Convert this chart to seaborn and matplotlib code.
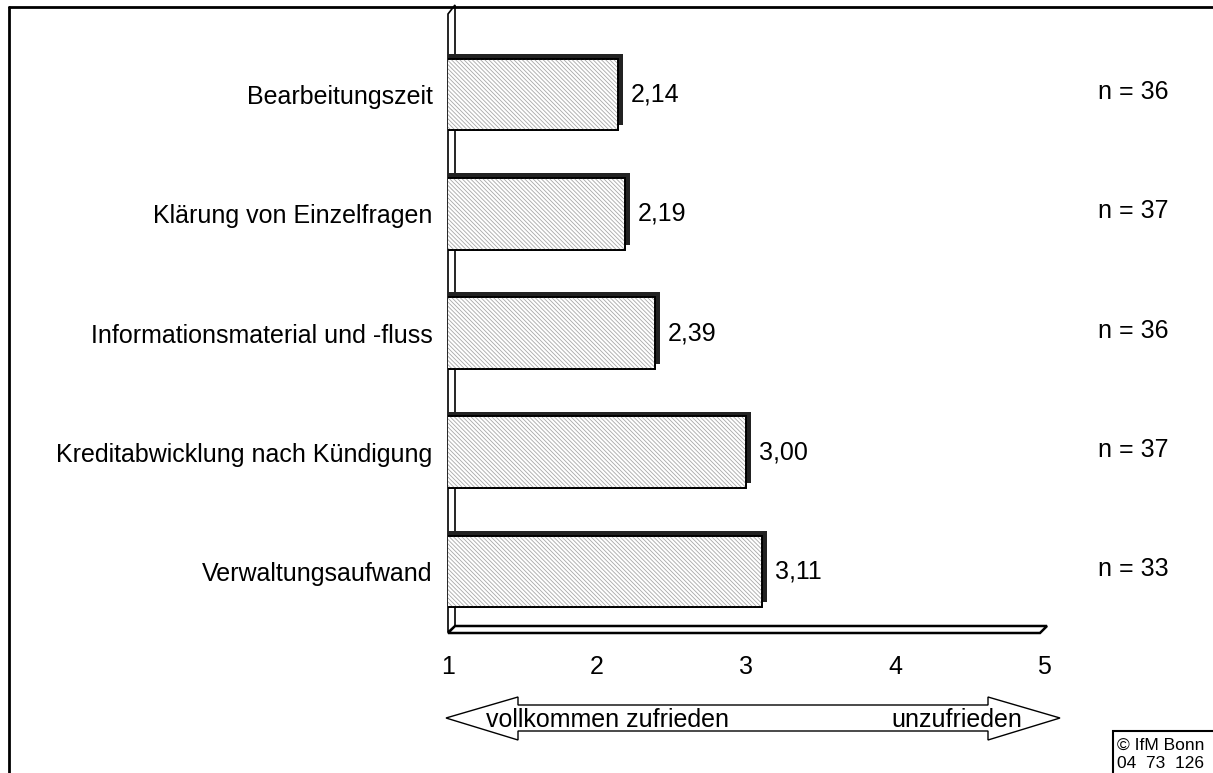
import numpy as np
import pandas as pd
import matplotlib
matplotlib.use('Agg')
import matplotlib.pyplot as plt
import matplotlib.patheffects as pe
from matplotlib.patches import Polygon, Rectangle
import matplotlib.transforms as mtransforms
import seaborn as sns

# data
categories = ['Bearbeitungszeit', 'Klärung von Einzelfragen',
              'Informationsmaterial und -fluss',
              'Kreditabwicklung nach Kündigung', 'Verwaltungsaufwand']
means = [2.14, 2.19, 2.39, 3.00, 3.11]
n_values = [36, 37, 36, 37, 33]
x_ticks = [1, 2, 3, 4, 5]
scale_left = 'vollkommen zufrieden'
scale_right = 'unzufrieden'

df = pd.DataFrame({'Kategorie': categories, 'Mittelwert': means})

sns.set_style('white')
plt.rcParams['font.family'] = ['Liberation Sans', 'DejaVu Sans']
plt.rcParams['hatch.linewidth'] = 0.6
plt.rcParams['text.color'] = 'black'
plt.rcParams['xtick.color'] = 'black'
plt.rcParams['ytick.color'] = 'black'

W, H = 1213, 773
FS = 18


def px(x, y):
    # image pixel (top-left origin) -> figure fraction
    return (x / W, 1 - y / H)


fig = plt.figure(figsize=(W / 100, H / 100), dpi=100)
ax = fig.add_axes([448 / W, 1 - 630 / H, 596 / W, 625 / H])

# white bars with dark top/right side (3d look)
sns.barplot(data=df, x='Mittelwert', y='Kategorie', orient='h', width=0.6,
            color='white', saturation=1, edgecolor='black', linewidth=1.3,
            ax=ax, zorder=2)
for p in ax.patches:
    p.set_path_effects([pe.SimplePatchShadow(offset=(3.5, 3.5), shadow_rgbFace='#222222', alpha=1),
                        pe.Normal()])

ypos = np.arange(len(means))
ax.barh(ypos, means, height=0.6, fill=False, hatch='\\\\\\\\\\\\\\\\',
        edgecolor='#a8a8a8', linewidth=0, zorder=3)
outline = ax.barh(ypos, means, height=0.6, fill=False, edgecolor='black',
                  linewidth=1.3, zorder=4)
ax.bar_label(outline, labels=[f'{v:.2f}'.replace('.', ',') for v in means],
             padding=9, fontsize=FS, color='black')

ax.set_xlim(1, 5)
ax.set_ylim(len(means) - 0.51, -0.75)
ax.set_xticks(x_ticks)
ax.set_xticklabels([str(t) for t in x_ticks], fontsize=FS)
ax.tick_params(axis='x', length=0, pad=18)
ax.tick_params(axis='y', length=0, pad=11, labelsize=FS)
ax.set_xlabel('')
ax.set_ylabel('')
for s in ax.spines.values():
    s.set_visible(False)

# n = ...
trans = mtransforms.blended_transform_factory(fig.transFigure, ax.transData)
for i, n in enumerate(n_values):
    ax.text(1133 / W, i - 0.02, f'n = {n}', transform=trans, ha='center',
            va='center', fontsize=FS, clip_on=False)

# wall and floor of the 3d axis
wall = Polygon([px(448, 632), px(448, 14), px(455, 5), px(455, 626)],
               closed=True, facecolor='white', edgecolor='black', lw=1.2,
               transform=fig.transFigure, clip_on=False, zorder=1)
floor = Polygon([px(448, 633), px(1040, 633), px(1047, 626), px(455, 626)],
                closed=True, facecolor='white', edgecolor='black', lw=1.8,
                transform=fig.transFigure, clip_on=False, zorder=1)
ax.add_patch(wall)
ax.add_patch(floor)

# double arrow below the scale
arrow_pts = [px(446, 718), px(518, 697), px(518, 705), px(988, 705), px(988, 697),
             px(1060, 718), px(988, 740), px(988, 731), px(518, 731), px(518, 740)]
fig.add_artist(Polygon(arrow_pts, closed=True, facecolor='white',
                       edgecolor='black', lw=1, transform=fig.transFigure))
fig.text(*px(486, 720), scale_left, fontsize=FS, va='center', ha='left')
fig.text(*px(1022, 720), scale_right, fontsize=FS, va='center', ha='right')

# frame
fig.add_artist(plt.Line2D([9 / W, 9 / W], [0, 1 - 7 / H], color='black', lw=2))
fig.add_artist(plt.Line2D([9 / W, 1], [1 - 7 / H, 1 - 7 / H], color='black', lw=2))

# copyright box
fig.add_artist(Rectangle(px(1113, 776), 110 / W, 45 / H, fill=False,
                         edgecolor='black', lw=1.5, transform=fig.transFigure))
fig.text(*px(1117, 745), '© IfM Bonn', fontsize=12.5, va='center', ha='left')
fig.text(*px(1117, 763), '04  73  126', fontsize=12.5, va='center', ha='left')

fig.savefig('out.png', dpi=100)
